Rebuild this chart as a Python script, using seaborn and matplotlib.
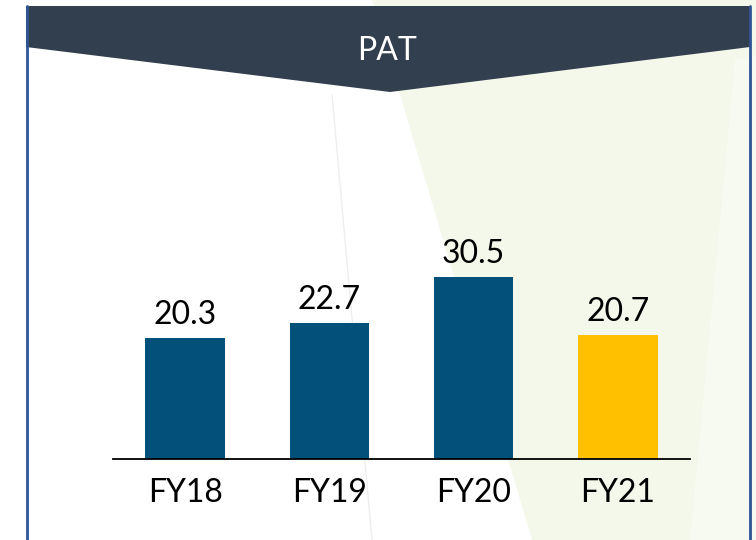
import matplotlib
matplotlib.use("Agg")
import matplotlib.pyplot as plt
from matplotlib.patches import Polygon
import seaborn as sns
import pandas as pd

categories = ["FY18", "FY19", "FY20", "FY21"]
values = [20.3, 22.7, 30.5, 20.7]
bar_colors = ["#03507A", "#03507A", "#03507A", "#FFC000"]
title = "PAT"

sns.set_theme(style="white")
plt.rcParams["font.family"] = ["Lato", "DejaVu Sans"]

fig = plt.figure(figsize=(7.56, 5.4), dpi=100)
fig.patch.set_facecolor("white")

# background decoration layer in pixel coordinates
bg = fig.add_axes([0, 0, 1, 1], zorder=0)
bg.set_xlim(0, 756)
bg.set_ylim(540, 0)
bg.axis("off")
bg.add_patch(Polygon([(372, 0), (756, 0), (756, 540), (532, 540)], closed=True,
                     facecolor="#F4F8EA", edgecolor="none"))
bg.add_patch(Polygon([(735, 60), (756, 55), (756, 540), (690, 540)], closed=True,
                     facecolor="#F7FAF0", edgecolor="none"))
bg.plot([332, 372], [95, 540], color="#EEEEEE", lw=1.0)
# banner
bg.add_patch(Polygon([(26, 6), (750, 6), (750, 47), (390, 92), (26, 47)], closed=True,
                     facecolor="#323F4F", edgecolor="none"))
# border lines
bg.plot([26.5, 26.5], [6, 540], color="#2F5597", lw=2)
bg.plot([750, 750], [6, 540], color="#2F5597", lw=2)
bg.text(387, 51, title, color="white", fontsize=23, ha="center", va="center")

ax = fig.add_axes([113 / 756, (540 - 459) / 540, 577 / 756, 359 / 540], zorder=1)
ax.patch.set_alpha(0)
df = pd.DataFrame({"cat": categories, "val": values})
sns.barplot(data=df, x="cat", y="val", hue="cat", palette=bar_colors, width=0.55,
            legend=False, ax=ax, saturation=1, linewidth=0, edgecolor="none")
ax.set_xlim(-0.5, 3.5)
ax.set_ylim(0, 60)
for i, v in enumerate(values):
    ax.annotate(f"{v:.1f}", (i, v), xytext=(0, 10), textcoords="offset points",
                ha="center", va="baseline", fontsize=23, color="black")
ax.set_xlabel("")
ax.set_ylabel("")
ax.set_yticks([])
for s in ["top", "right", "left"]:
    ax.spines[s].set_visible(False)
ax.spines["bottom"].set_color("black")
ax.spines["bottom"].set_linewidth(1.3)
ax.tick_params(axis="x", length=0, labelsize=23, pad=14, labelcolor="black")

fig.savefig("out.png", dpi=100)
